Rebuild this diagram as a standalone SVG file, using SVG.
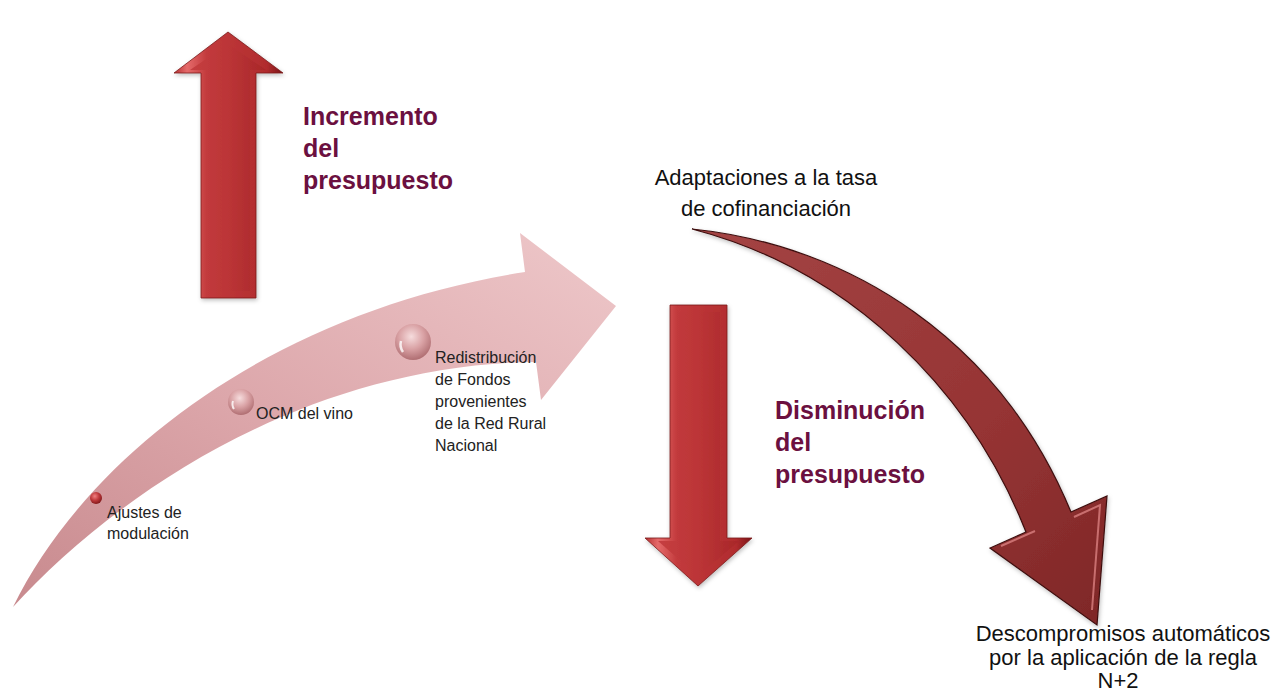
<svg xmlns="http://www.w3.org/2000/svg" width="1278" height="693" viewBox="0 0 1278 693">
<style>
.big{font-family:"Liberation Sans",Arial,sans-serif;font-weight:bold;font-size:25px;fill:#6B1040}
.lbl{font-family:"Liberation Sans",Arial,sans-serif;font-size:22px;fill:#111}
.sm{font-family:"Liberation Sans",Arial,sans-serif;font-size:16px;fill:#222}
</style>
<defs>
<linearGradient id="pink" x1="0" y1="1" x2="1" y2="0">
<stop offset="0" stop-color="#C88A8E"/>
<stop offset="0.45" stop-color="#DCA6AA"/>
<stop offset="1" stop-color="#EEC8CA"/>
</linearGradient>
<linearGradient id="bevel" x1="0" y1="0" x2="1" y2="0">
<stop offset="0" stop-color="#B52F31"/>
<stop offset="0.12" stop-color="#E56A6A"/>
<stop offset="0.3" stop-color="#C23A3C"/>
<stop offset="0.85" stop-color="#B12C2E"/>
<stop offset="1" stop-color="#7A1416"/>
</linearGradient>
<linearGradient id="face" x1="0" y1="0" x2="1" y2="0">
<stop offset="0" stop-color="#C53E40"/>
<stop offset="0.5" stop-color="#BC3537"/>
<stop offset="1" stop-color="#A82729"/>
</linearGradient>
<linearGradient id="dark" x1="0" y1="0" x2="1" y2="1">
<stop offset="0" stop-color="#A44444"/>
<stop offset="0.6" stop-color="#963434"/>
<stop offset="1" stop-color="#7E2727"/>
</linearGradient>
<radialGradient id="ball" cx="0.45" cy="0.35" r="0.7">
<stop offset="0" stop-color="#F6DCDD"/>
<stop offset="0.5" stop-color="#D9A1A4"/>
<stop offset="1" stop-color="#A9666A"/>
</radialGradient>
<radialGradient id="ballR" cx="0.4" cy="0.35" r="0.7">
<stop offset="0" stop-color="#F08080"/>
<stop offset="0.5" stop-color="#C0393C"/>
<stop offset="1" stop-color="#7A1416"/>
</radialGradient>
<filter id="sh" x="-20%" y="-20%" width="140%" height="140%">
<feDropShadow dx="1" dy="2" stdDeviation="2" flood-color="#000" flood-opacity="0.25"/>
</filter>
</defs>

<g id="connectors">
<g id="pink-arrow">
<path d="M13,607 C90,450 280,310 525,272 L520,233 L616,306 L541,400 L536,362 C300,365 110,500 13,607 Z" fill="url(#pink)"/>
</g>
<g id="curved-arrow" filter="url(#sh)">
<path d="M692,229 C850,245 1000,340 1071,512 L1107,496 L1097,625 L990,548 L1026,532 C970,390 850,270 692,229 Z" fill="url(#dark)" stroke="#3E1010" stroke-width="1.2"/>
<path d="M1001,546 L1035,531 M1074,517 L1100,505 L1092,610" fill="none" stroke="#D98080" stroke-width="2" opacity="0.8"/>
</g>
</g>

<g id="up-arrow" filter="url(#sh)">
<polygon points="228,32 283,73 256,73 256,298 201,298 201,73 174,73" fill="url(#bevel)" stroke="#7A1A1A" stroke-width="0.8"/>
<polygon points="228,44 266,70 250,70 250,291 208,291 208,70 190,70" fill="url(#face)"/>
</g>

<g id="down-arrow" filter="url(#sh)">
<polygon points="670,305 727,305 727,538 752,538 698,586 645,538 670,538" fill="url(#bevel)" stroke="#7A1A1A" stroke-width="0.8"/>
<polygon points="677,312 720,312 720,541 739,541 698,576 658,541 677,541" fill="url(#face)"/>
</g>

<g id="incremento">
<text class="big" x="303" y="125">Incremento</text>
<text class="big" x="303" y="157">del</text>
<text class="big" x="303" y="189">presupuesto</text>
</g>

<g id="disminucion">
<text class="big" x="775" y="419">Disminución</text>
<text class="big" x="775" y="451">del</text>
<text class="big" x="775" y="483">presupuesto</text>
</g>

<g id="adaptaciones">
<text class="lbl" x="766" y="185" text-anchor="middle">Adaptaciones a la tasa</text>
<text class="lbl" x="766" y="216" text-anchor="middle">de cofinanciación</text>
</g>

<g id="descompromisos">
<text class="lbl" x="1123" y="641" text-anchor="middle">Descompromisos automáticos</text>
<text class="lbl" x="1123" y="665" text-anchor="middle">por la aplicación de la regla</text>
<text class="lbl" x="1118" y="688" text-anchor="middle">N+2</text>
</g>

<g id="ajustes">
<circle cx="96" cy="498" r="6" fill="url(#ballR)"/>
<text class="sm" x="107" y="518">Ajustes de</text>
<text class="sm" x="107" y="539">modulación</text>
</g>

<g id="ocm">
<circle cx="241" cy="402" r="13" fill="url(#ball)"/>
<path d="M234,409 a9,9 0 0 1 -1,-8" stroke="#fff" stroke-width="2" fill="none" opacity="0.8"/>
<text class="sm" x="256" y="419">OCM del vino</text>
</g>

<g id="redistribucion">
<circle cx="413" cy="342" r="18" fill="url(#ball)"/>
<path d="M403,352 a13,13 0 0 1 -2,-11" stroke="#fff" stroke-width="2.5" fill="none" opacity="0.8"/>
<text class="sm" x="435" y="363">Redistribución</text>
<text class="sm" x="435" y="385">de Fondos</text>
<text class="sm" x="435" y="407">provenientes</text>
<text class="sm" x="435" y="429">de la Red Rural</text>
<text class="sm" x="435" y="451">Nacional</text>
</g>
</svg>
